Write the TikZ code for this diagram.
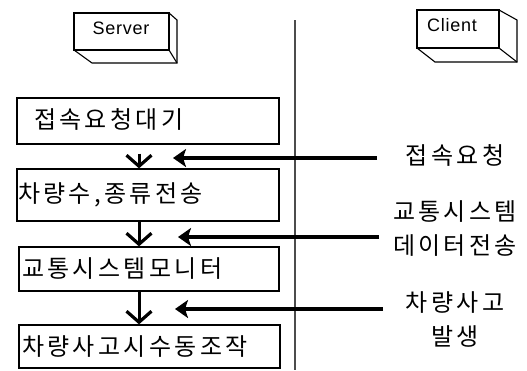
\documentclass[tikz,border=0pt]{standalone}
\usepackage{fontspec}
\newfontfamily\kr[LetterSpace=14]{Noto Sans CJK KR}
\newfontfamily\lab[LetterSpace=4]{Liberation Sans}
\usetikzlibrary{arrows.meta,calc}
\tikzset{
  stepbox/.style={draw=black, line width=1.3pt, inner xsep=2pt, inner ysep=0pt, align=left, font=\kr\fontsize{24}{26}\selectfont},
  cube/.style={draw=black, line width=1.1pt, line join=miter},
  downarrow/.style={line width=3pt, -{Straight Barb[length=11pt,width=25pt,line width=3.2pt]}},
  leftarrow/.style={line width=3.2pt, -{Stealth[length=13pt,width=18pt,inset=3pt]}},
  msg/.style={align=center, font=\kr\fontsize{24}{34}\selectfont},
  actor/.style={font=\lab\fontsize{18}{20}\selectfont}
}
\begin{document}
\begin{tikzpicture}[x=1pt,y=-1pt]
\useasboundingbox (0,0) rectangle (527,370);
% server cube
\draw[cube] (74,13) rectangle (169,50);
\draw[cube] (169,13) -- (177,20) -- (177,63) -- (92,63) -- (74,50);
\draw[cube] (169,50) -- (177,63);
\node[actor] (server) at (121,28) {Server};
% client cube
\draw[cube] (417,10) rectangle (499,48);
\draw[cube] (499,10) -- (517,20) -- (517,62) -- (435,62) -- (417,48);
\draw[cube] (499,48) -- (517,62);
\node[actor] (client) at (452,25) {Client};
% separator
\coordinate (ltop) at (295,20);
\coordinate (lbot) at (295,370);
\draw[line width=2pt, black!70] (ltop) -- (lbot);
% steps
\node[stepbox, minimum width=262pt, minimum height=46pt, text width=258pt] (b1) at (148,121) {\hspace*{15pt}\raisebox{5pt}{접속요청대기}};
\node[stepbox, minimum width=262pt, minimum height=52pt, text width=258pt] (b2) at (148,195) {\hspace*{-1pt}차량수,종류전송};
\node[stepbox, minimum width=260pt, minimum height=44pt, text width=254pt] (b3) at (149,269) {교통시스템모니터};
\node[stepbox, minimum width=261pt, minimum height=43pt, text width=255pt] (b4) at (149.5,346.5) {차량사고시수동조작};
% down arrows
\coordinate (ax) at (139,0);
\draw[downarrow, shorten <=9pt] (ax |- b1.south) -- (ax |- b2.north);
\draw[downarrow] (ax |- b2.south) -- (ax |- b3.north);
\draw[downarrow] (ax |- b3.south) -- (ax |- b4.north);
% messages
\coordinate (m1s) at (377,158);
\coordinate (m1e) at (173,158);
\coordinate (m2s) at (379,237);
\coordinate (m2e) at (178,237);
\coordinate (m3s) at (383,309);
\coordinate (m3e) at (175,309);
\draw[leftarrow] (m1s) -- (m1e);
\draw[leftarrow] (m2s) -- (m2e);
\draw[leftarrow] (m3s) -- (m3e);
\node[msg] (t1) at (455,155) {접속요청};
\node[msg] (t2) at (455,229) {교통시스템\\데이터전송};
\node[msg] (t3) at (455,319) {차량사고\\발생};
\end{tikzpicture}
\end{document}
